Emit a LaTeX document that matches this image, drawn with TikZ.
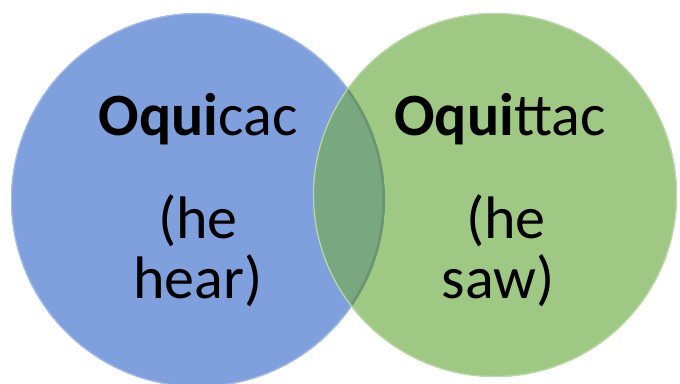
\documentclass[tikz,border=0pt]{standalone}
\usepackage{fontspec}
\setmainfont{Carlito}
\definecolor{blueset}{RGB}{127,159,221}
\definecolor{greenset}{RGB}{159,200,133}
\definecolor{bothset}{RGB}{121,168,128}
\tikzset{
  setrim/.style={line width=1.2pt},
  word/.style={anchor=base, inner sep=0pt, font=\fontsize{60}{62}\selectfont}
}

\begin{document}
\begin{tikzpicture}[x=1pt, y=-1pt]
  \useasboundingbox (0,0) rectangle (680,383);
  % the two sets
  \coordinate (cl) at (198,200);
  \coordinate (cr) at (495,195);
  \fill[blueset] (cl) circle[radius=187pt];
  \draw[setrim, blueset!70!white] (cl) circle[radius=186.5pt];
  \fill[greenset] (cr) circle[radius=182pt];
  \begin{scope}
    \clip (cl) circle[radius=187pt];
    \clip (cr) circle[radius=182pt];
    \fill[bothset] (cr) circle[radius=182pt];
    \draw[line width=3pt, bothset!88!black] (cl) circle[radius=186pt];
  \end{scope}
  \draw[setrim, greenset!70!white] (cr) circle[radius=181.5pt];
  % words
  \node[word] (hearname) at (198,135) {{\bfseries Oqui}cac};
  \node[word] (hearline1) at (198,238) {(he};
  \node[word] (hearline2) at (198,298) {hear)};
  \node[word] (sawname) at (500,135) {{\bfseries Oqui}ttac};
  \node[word] (sawline1) at (506,238) {(he};
  \node[word] (sawline2) at (498,298) {saw)};
\end{tikzpicture}
\end{document}
